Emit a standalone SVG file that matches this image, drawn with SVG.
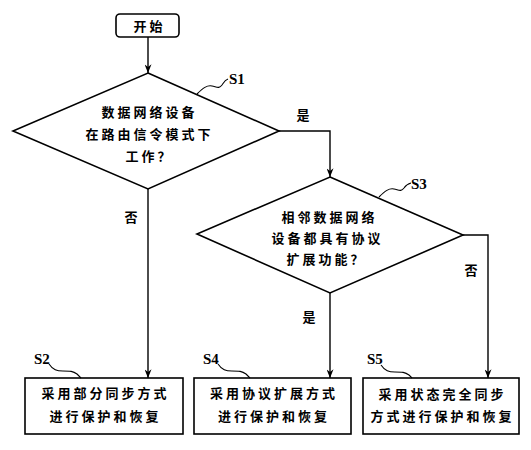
<svg xmlns="http://www.w3.org/2000/svg" width="531" height="450" viewBox="0 0 531 450">
<style>
.shape{fill:#fff;stroke:#000;stroke-width:1.6}
.ln{fill:none;stroke:#000;stroke-width:1.4}
.sq{fill:none;stroke:#000;stroke-width:1.1}
.t{font-family:"Noto Sans CJK SC","Noto Sans CJK JP",sans-serif;font-size:13px;font-weight:bold;letter-spacing:3px;text-anchor:middle;fill:#000}
.lab{font-family:"Noto Sans CJK SC",sans-serif;font-size:13px;font-weight:bold;text-anchor:middle;fill:#000}
.s{font-family:"Liberation Serif",serif;font-size:15px;font-weight:bold;fill:#000}
</style>
<defs>
<marker id="ah" viewBox="0 0 10 8" refX="10" refY="4" markerWidth="9" markerHeight="7" markerUnits="userSpaceOnUse" orient="auto">
<path d="M0,0 L10,4 L0,8 L3,4 Z" fill="#000"/>
</marker>
</defs>
<rect width="531" height="450" fill="#fff"/>
<g id="connectors">
<line class="ln" x1="148" y1="37" x2="148" y2="73" marker-end="url(#ah)"/>
<polyline class="ln" points="279,131 330,131 330,177" marker-end="url(#ah)"/>
<line class="ln" x1="148" y1="189" x2="148" y2="378" marker-end="url(#ah)"/>
<line class="ln" x1="330" y1="293" x2="330" y2="378" marker-end="url(#ah)"/>
<polyline class="ln" points="463,235 488,235 488,378" marker-end="url(#ah)"/>
<text class="lab" x="303" y="120">是</text>
<text class="lab" x="131" y="222">否</text>
<text class="lab" x="471" y="275">否</text>
<text class="lab" x="309" y="322">是</text>
</g>
<g id="start">
<rect class="shape" x="116" y="14" width="63" height="23" rx="4"/>
<text class="t" x="149.5" y="31">开始</text>
</g>
<g id="S1">
<polygon class="shape" points="148,73 279,131 148,189 13,131"/>
<text class="t" x="149.5" y="117">数据网络设备</text>
<text class="t" x="149.5" y="139">在路由信令模式下</text>
<text class="t" x="149.5" y="161">工作？</text>
<path class="sq" d="M197,94 C203,88 207,85 212,86 C217,87 219,89 222,85 C224,82 225,80 228,79"/>
<text class="s" x="229" y="84">S1</text>
</g>
<g id="S3">
<polygon class="shape" points="330,177 463,235 330,293 197,234"/>
<text class="t" x="329.5" y="222">相邻数据网络</text>
<text class="t" x="327.5" y="243">设备都具有协议</text>
<text class="t" x="326.5" y="264">扩展功能？</text>
<path class="sq" d="M379,197 C385,191 389,188 394,189 C399,190 401,192 404,188 C406,185 407,184 411,183"/>
<text class="s" x="411" y="189">S3</text>
</g>
<g id="S2">
<rect class="shape" x="25" y="378" width="158" height="56"/>
<text class="t" x="105.5" y="398">采用部分同步方式</text>
<text class="t" x="105.5" y="421">进行保护和恢复</text>
<path class="sq" d="M49,364 C53,370 57,371 63,371 C70,371 73,371 77,374 C79,376 80,377 81,378"/>
<text class="s" x="34" y="364">S2</text>
</g>
<g id="S4">
<rect class="shape" x="194" y="378" width="157" height="56"/>
<text class="t" x="274" y="398">采用协议扩展方式</text>
<text class="t" x="274" y="421">进行保护和恢复</text>
<path class="sq" d="M218,364 C222,370 226,371 232,371 C239,371 242,371 246,374 C248,376 249,377 250,378"/>
<text class="s" x="203" y="364">S4</text>
</g>
<g id="S5">
<rect class="shape" x="363" y="378" width="156" height="56"/>
<text class="t" x="442.5" y="399">采用状态完全同步</text>
<text class="t" x="442.5" y="421">方式进行保护和恢复</text>
<path class="sq" d="M381,365 C385,371 389,372 395,372 C402,372 405,372 409,375 C411,377 411,377 412,378"/>
<text class="s" x="367" y="364">S5</text>
</g>
</svg>
